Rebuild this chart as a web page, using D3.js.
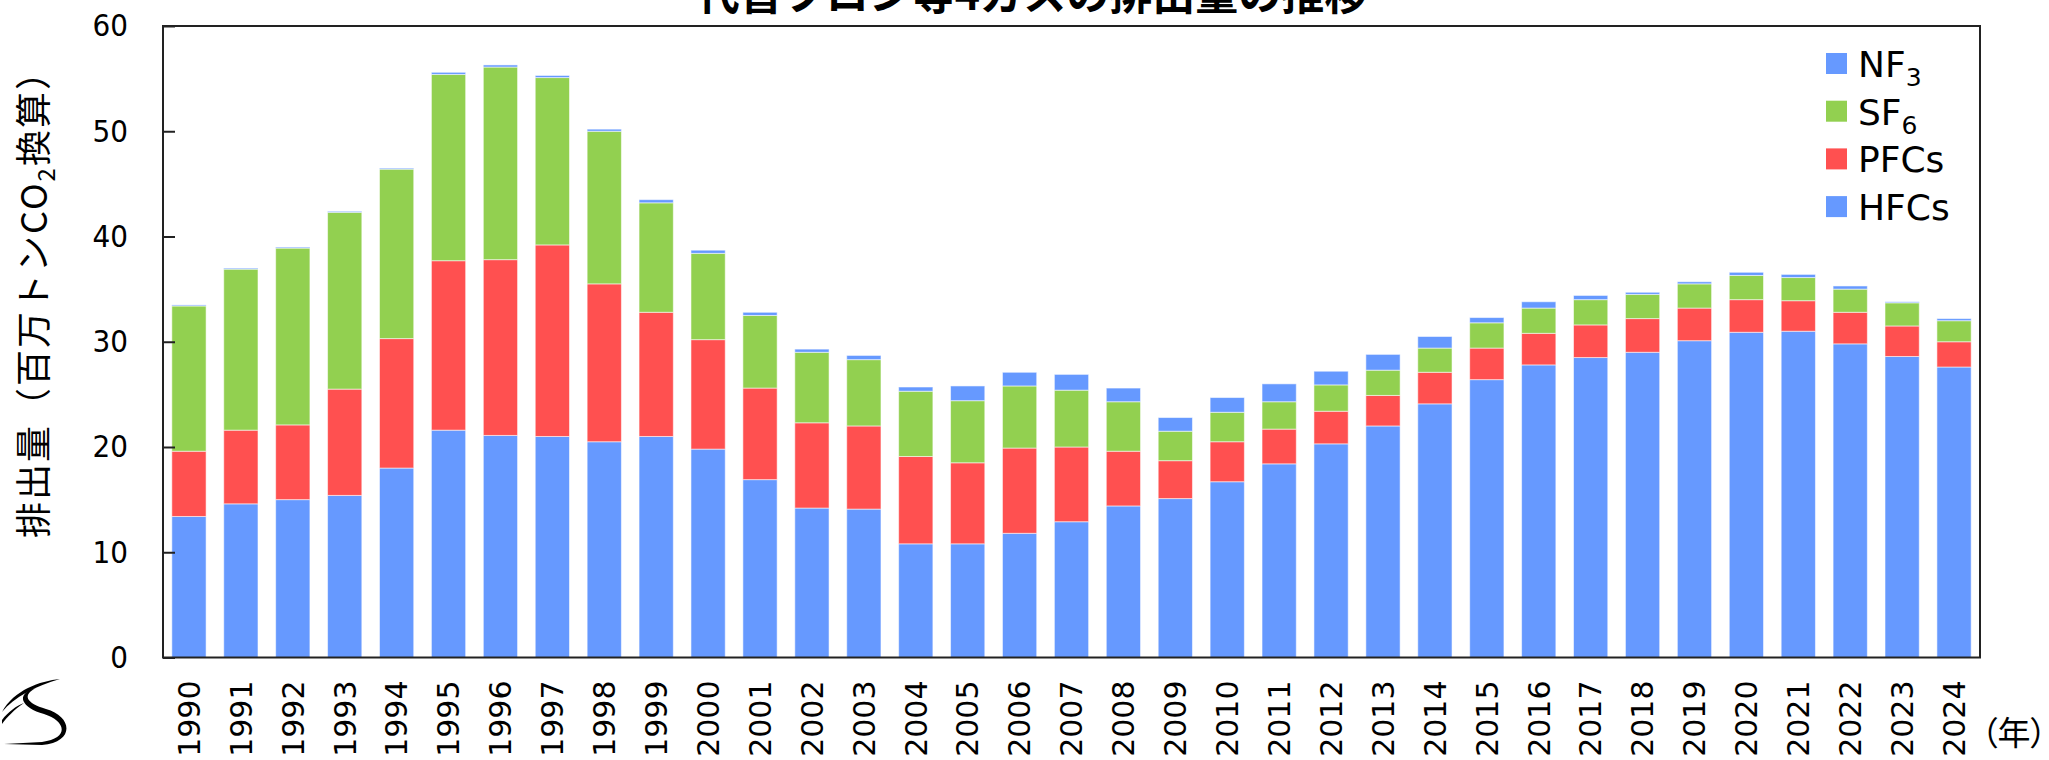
<!DOCTYPE html>
<html>
<head>
<meta charset="utf-8">
<script src="https://cdn.jsdelivr.net/npm/d3@7"></script>
<style>
  body { margin: 0; background: #fff; }
  svg { display: block; }
  .lat { font-family: 'DejaVu Sans', sans-serif; }
  .cond { font-stretch: condensed; }
  .jp { font-family: 'Noto Sans CJK JP', sans-serif; }
</style>
</head>
<body>
<div id="chart"></div>
<script>
// 代替フロン等4ガス 排出量 (百万トンCO2換算)
const years = ['1990', '1991', '1992', '1993', '1994', '1995', '1996', '1997', '1998', '1999',
  '2000', '2001', '2002', '2003', '2004', '2005', '2006', '2007', '2008', '2009',
  '2010', '2011', '2012', '2013', '2014', '2015', '2016', '2017', '2018', '2019',
  '2020', '2021', '2022', '2023', '2024']

const hfcs = [13.4, 14.6, 15.0, 15.4, 18.0, 21.6, 21.1, 21.0, 20.5, 21.0,
  19.8, 16.9, 14.2, 14.1, 10.8, 10.8, 11.8, 12.9, 14.4, 15.1,
  16.7, 18.4, 20.3, 22.0, 24.1, 26.4, 27.8, 28.5, 29.0, 30.1,
  30.9, 31.0, 29.8, 28.6, 27.6]
const pfcs = [6.2, 7.0, 7.1, 10.1, 12.3, 16.1, 16.7, 18.2, 15.0, 11.8,
  10.4, 8.7, 8.1, 7.9, 8.3, 7.7, 8.1, 7.1, 5.2, 3.6,
  3.8, 3.3, 3.1, 2.9, 3.0, 3.0, 3.0, 3.1, 3.2, 3.1,
  3.1, 2.9, 3.0, 2.9, 2.4]
const sf6 = [13.8, 15.3, 16.8, 16.8, 16.1, 17.7, 18.3, 15.9, 14.5, 10.4,
  8.2, 6.9, 6.7, 6.3, 6.2, 5.9, 5.9, 5.4, 4.7, 2.8,
  2.8, 2.6, 2.5, 2.4, 2.3, 2.4, 2.4, 2.4, 2.3, 2.3,
  2.3, 2.2, 2.2, 2.2, 2.0]
const nf3 = [0.1, 0.1, 0.1, 0.1, 0.1, 0.2, 0.2, 0.2, 0.2, 0.3,
  0.3, 0.3, 0.3, 0.4, 0.4, 1.4, 1.3, 1.5, 1.3, 1.3,
  1.4, 1.7, 1.3, 1.5, 1.1, 0.5, 0.6, 0.4, 0.2, 0.2,
  0.3, 0.3, 0.3, 0.1, 0.2]

const keys = ['HFCs', 'PFCs', 'SF6', 'NF3']
const colors = ['#6699ff', '#ff5050', '#92d050', '#6699ff']
const yTicks = [0, 10, 20, 30, 40, 50, 60]

const W = 2049
const H = 760
const plotL = 163
const plotR = 1980
const plotT = 26
const plotB = 657.5

let rows = years.map(function (yr, i) {
  return { year: yr, HFCs: hfcs[i], PFCs: pfcs[i], SF6: sf6[i], NF3: nf3[i] }
})
let series = d3.stack().keys(keys)(rows)

let x = d3.scaleBand()
  .domain(years)
  .range([plotL, plotR])
  .paddingInner(0.34)
  .paddingOuter(0.17)

let y = d3.scaleLinear()
  .domain([0, 60])
  .range([plotB, plotT])

let color = d3.scaleOrdinal().domain(keys).range(colors)

let svg = d3.select('#chart').append('svg')
  .attr('width', W)
  .attr('height', H)

// title (top is cut off in the original)
svg.append('text')
  .attr('class', 'jp')
  .attr('x', 1032)
  .attr('y', 10)
  .attr('text-anchor', 'middle')
  .style('font-size', '43px')
  .style('font-weight', 'bold')
  .text('代替フロン等4ガスの排出量の推移')

// bars
svg.append('g')
  .selectAll('g')
  .data(series)
  .enter().append('g')
  .attr('fill', function (d) { return color(d.key) })
  .selectAll('rect')
  .data(function (d) { return d })
  .enter().append('rect')
  .attr('x', function (d) { return x(d.data.year) })
  .attr('width', x.bandwidth())
  .attr('y', function (d) { return y(d[1]) })
  .attr('height', function (d) { return y(d[0]) - y(d[1]) })
  .attr('stroke', 'rgba(255,255,255,0.55)')
  .attr('stroke-width', 1)

// frame
svg.append('rect')
  .attr('x', plotL)
  .attr('y', plotT)
  .attr('width', plotR - plotL)
  .attr('height', plotB - plotT)
  .attr('fill', 'none')
  .attr('stroke', '#222')
  .attr('stroke-width', 2)

// y axis
let yAxis = svg.append('g')
  .attr('transform', 'translate(' + plotL + ',0)')
  .call(d3.axisLeft(y).tickValues(yTicks).tickSizeInner(-12).tickSizeOuter(0).tickPadding(35))
yAxis.select('.domain').remove()
yAxis.selectAll('line').attr('stroke', '#222').attr('stroke-width', 2)
yAxis.selectAll('text')
  .attr('class', 'lat cond')
  .attr('fill', '#000')
  .style('font-size', '31px')

// x axis
let xAxis = svg.append('g')
  .attr('transform', 'translate(0,' + plotB + ')')
  .call(d3.axisBottom(x).tickSize(0).tickPadding(0))
xAxis.select('.domain').remove()
xAxis.selectAll('text')
  .attr('class', 'lat')
  .attr('fill', '#000')
  .attr('transform', 'rotate(-90)')
  .attr('text-anchor', 'end')
  .attr('x', -23)
  .attr('y', 0)
  .attr('dy', '0.36em')
  .style('font-size', '30px')

// y title
svg.append('text')
  .attr('class', 'jp')
  .attr('transform', 'translate(47,295) rotate(-90)')
  .attr('text-anchor', 'middle')
  .style('font-size', '36px')
  .style('letter-spacing', '2px')
  .call(function (t) {
    t.append('tspan').text('排出量（百万トンCO')
    t.append('tspan').attr('dy', 8).style('font-size', '24px').text('2')
    t.append('tspan').attr('dy', -8).text('換算）')
  })

// unit
svg.append('text')
  .attr('class', 'jp')
  .attr('x', 2047)
  .attr('y', 745)
  .attr('text-anchor', 'end')
  .style('font-size', '33px')
  .style('font-feature-settings', '"palt"')
  .text('（年）')

// legend
let legendItems = [
  { key: 'NF3', base: 'NF', sub: '3' },
  { key: 'SF6', base: 'SF', sub: '6' },
  { key: 'PFCs', base: 'PFCs', sub: '' },
  { key: 'HFCs', base: 'HFCs', sub: '' }
]
let legend = svg.append('g')
  .selectAll('g')
  .data(legendItems)
  .enter().append('g')
  .attr('transform', function (d, i) { return 'translate(1826,' + (53 + i * 47.7) + ')' })
legend.append('rect')
  .attr('width', 21)
  .attr('height', 21)
  .attr('fill', function (d) { return color(d.key) })
legend.append('text')
  .attr('class', 'lat')
  .attr('x', 32)
  .attr('y', 24)
  .style('font-size', '36px')
  .call(function (t) {
    t.append('tspan').text(function (d) { return d.base })
    t.append('tspan')
      .attr('dy', 9)
      .style('font-size', '25px')
      .text(function (d) { return d.sub })
  })

// logo mark, bottom left
let logo = svg.append('g').attr('fill', '#000')
logo.append('path')
  .attr('d', 'M60,679 C40,681 14,690 2,712 C14,697 36,686 60,679 Z')
logo.append('path')
  .attr('d', 'M36,688 C14,694 22,708 44,714 C66,721 70,738 42,742 L4,744 L42,745 C76,742 72,716 46,709 C26,703 22,695 36,688 Z')
logo.append('path')
  .attr('d', 'M2,720 C8,712 16,706 24,703 C14,710 8,716 2,724 Z')
</script>
</body>
</html>
